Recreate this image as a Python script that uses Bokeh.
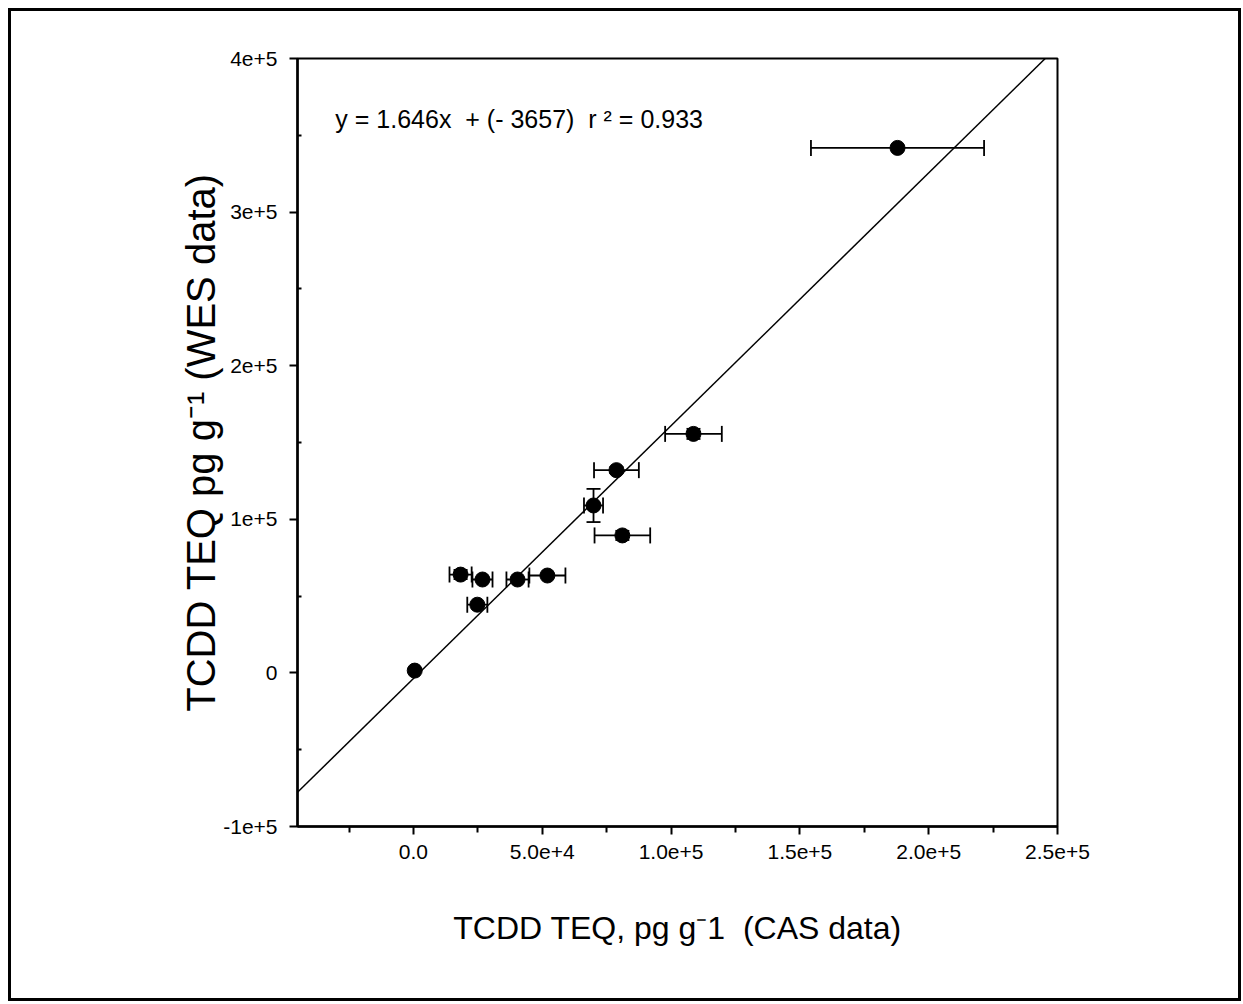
from bokeh.plotting import figure
from bokeh.models import (Range1d, FixedTicker, Whisker, TeeHead, ColumnDataSource,
                          Slope, Label)
from bokeh.embed import file_html
from bokeh.resources import INLINE

# ---- data ----
cas_x = [500, 24800, 18300, 26800, 40400, 52000, 69900, 78800, 81100, 108700, 187900]
wes_y = [1500, 44400, 64000, 60800, 60800, 63400, 109000, 132000, 89500, 155600, 341800]
cas_err = [0, 3900, 4300, 3900, 4300, 7000, 3700, 8700, 10800, 11000, 33600]
wes_err = [0, 0, 3000, 0, 0, 0, 10800, 2000, 3000, 3300, 0]

slope = 1.646
intercept = -3657
equation = "y = 1.646x\u00a0\u00a0+ (- 3657)\u00a0\u00a0r \u00b2 = 0.933"

x_ticks = [0, 50000, 100000, 150000, 200000, 250000]
x_tick_labels = ["0.0", "5.0e+4", "1.0e+5", "1.5e+5", "2.0e+5", "2.5e+5"]
x_minor = [-25000, 25000, 75000, 125000, 175000, 225000]
y_ticks = [-100000, 0, 100000, 200000, 300000, 400000]
y_tick_labels = ["-1e+5", "0", "1e+5", "2e+5", "3e+5", "4e+5"]
y_minor = [-50000, 50000, 150000, 250000, 350000]

x_label = "TCDD TEQ, pg g\u207b1\u00a0\u00a0(CAS data)"
y_label = "TCDD TEQ pg g\u207b\u00b9 (WES data)"

FONT = "Liberation Sans"

p = figure(width=1243, height=1004,
           x_range=Range1d(-45000, 250000), y_range=Range1d(-100000, 400000),
           output_backend="svg", toolbar_location=None,
           min_border_left=297, min_border_right=186,
           min_border_top=58, min_border_bottom=178)
p.grid.visible = False
p.outline_line_color = "black"
p.outline_line_width = 2
p.background_fill_color = "white"
p.border_fill_color = None
# outer frame around the whole picture (drawn by the page element behind a transparent border)
p.styles = {
    "background-color": "white",
    "box-shadow": ("inset 8px 8px 0 0 white, inset -2px -3px 0 0 white, "
                   "inset 11px 11px 0 0 black, inset -5px -6px 0 0 black"),
}

# axes
p.xaxis.ticker = FixedTicker(ticks=x_ticks, minor_ticks=x_minor)
p.yaxis.ticker = FixedTicker(ticks=y_ticks, minor_ticks=y_minor)
p.xaxis.major_label_overrides = {t: l for t, l in zip(x_ticks, x_tick_labels)}
p.yaxis.major_label_overrides = {t: l for t, l in zip(y_ticks, y_tick_labels)}
for ax in (p.xaxis, p.yaxis):
    ax.axis_line_width = 2.5
    ax.axis_line_color = "black"
    ax.major_tick_line_width = 2
    ax.minor_tick_line_width = 2
    ax.major_tick_in = 0
    ax.major_tick_out = 8
    ax.major_label_text_font = FONT
    ax.major_label_text_font_size = "21px"
    ax.major_label_text_color = "black"
    ax.axis_label_text_font = FONT
    ax.axis_label_text_font_style = "normal"
    ax.axis_label_text_color = "black"
p.xaxis.minor_tick_in = 0
p.xaxis.minor_tick_out = 6
p.yaxis.minor_tick_in = 4
p.yaxis.minor_tick_out = 0
p.xaxis.major_label_standoff = 10
p.yaxis.major_label_standoff = 12
p.xaxis.axis_label = x_label
p.yaxis.axis_label = y_label
p.xaxis.axis_label_text_font_size = "32px"
p.yaxis.axis_label_text_font_size = "40px"
p.xaxis.axis_label_standoff = 48
p.yaxis.axis_label_standoff = -3

# regression line
p.add_layout(Slope(gradient=slope, y_intercept=intercept,
                   line_color="black", line_width=1.5))

# horizontal error bars
hx = [i for i, e in enumerate(cas_err) if e > 0]
src_h = ColumnDataSource(dict(
    y=[wes_y[i] for i in hx],
    lo=[cas_x[i] - cas_err[i] for i in hx],
    hi=[cas_x[i] + cas_err[i] for i in hx]))
p.add_layout(Whisker(source=src_h, base="y", lower="lo", upper="hi", dimension="width",
                     line_color="black", line_width=1.8,
                     upper_head=TeeHead(size=16, line_color="black", line_width=1.8),
                     lower_head=TeeHead(size=16, line_color="black", line_width=1.8)))

# vertical error bars
vy = [i for i, e in enumerate(wes_err) if e > 0]
src_v = ColumnDataSource(dict(
    x=[cas_x[i] for i in vy],
    lo=[wes_y[i] - wes_err[i] for i in vy],
    hi=[wes_y[i] + wes_err[i] for i in vy]))
p.add_layout(Whisker(source=src_v, base="x", lower="lo", upper="hi", dimension="height",
                     line_color="black", line_width=1.8,
                     upper_head=TeeHead(size=14, line_color="black", line_width=1.8),
                     lower_head=TeeHead(size=14, line_color="black", line_width=1.8)))

# points
p.scatter(cas_x, wes_y, size=15, marker="circle", fill_color="black", line_color="black")

# equation text
p.add_layout(Label(x=-30300, y=360800, text=equation, text_baseline="middle",
                   text_font=FONT, text_font_size="25px", text_color="black"))

open("out.html", "w").write(file_html(p, INLINE))
